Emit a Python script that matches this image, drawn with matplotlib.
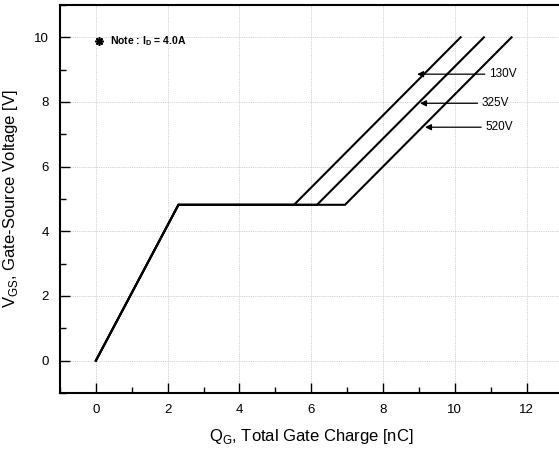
import matplotlib
matplotlib.use("Agg")
import matplotlib.pyplot as plt
from matplotlib.ticker import MultipleLocator

plt.rcParams['font.family'] = ['Liberation Sans', 'DejaVu Sans']

# Data: gate charge curves (Qg [nC], Vgs [V])
series_labels = ["130V", "325V", "520V"]
q_130 = [0.0, 2.3, 5.52, 10.16]
v_130 = [0.0, 4.82, 4.82, 10.0]
q_325 = [0.0, 2.3, 6.16, 10.81]
v_325 = [0.0, 4.82, 4.82, 10.0]
q_520 = [0.0, 2.3, 6.94, 11.58]
v_520 = [0.0, 4.82, 4.82, 10.0]

# annotation positions: (text x, text y, arrow head x)
ann_text_x = [10.95, 10.75, 10.85]
ann_y = [8.86, 7.96, 7.22]
ann_head_x = [8.95, 9.03, 9.17]

xticks = [0, 2, 4, 6, 8, 10, 12]
yticks = [0, 2, 4, 6, 8, 10]

fig = plt.figure(figsize=(5.59, 4.53), dpi=100)
ax = fig.add_axes([0.1073, 0.1325, 0.8990, 0.8565])

for q, v in [(q_130, v_130), (q_325, v_325), (q_520, v_520)]:
    ax.plot(q, v, color='black', lw=1.5, solid_joinstyle='miter')

for lab, tx, ty, hx in zip(series_labels, ann_text_x, ann_y, ann_head_x):
    ax.annotate(lab, xy=(hx, ty), xytext=(tx, ty), fontsize=8.5,
                va='center', ha='left',
                arrowprops=dict(arrowstyle='-|>', color='black', lw=0.9,
                                mutation_scale=9, shrinkA=1, shrinkB=0))

ax.plot([0.1], [9.88], marker=(8, 2, 0), color='black', ms=6, mew=1.2)
ax.text(0.38, 9.88, r"Note : I$_\mathregular{D}$ = 4.0A", fontsize=7.5,
        fontweight='bold', va='center', ha='left')

ax.set_xlim(-1, 13)
ax.set_ylim(-1, 11)
ax.set_xticks(xticks)
ax.set_yticks(yticks)
ax.xaxis.set_minor_locator(MultipleLocator(1))
ax.yaxis.set_minor_locator(MultipleLocator(1))
ax.tick_params(which='major', direction='in', length=7, width=1, labelsize=9.5, pad=8)
ax.tick_params(which='minor', direction='in', length=4, width=1)
ax.tick_params(top=False, right=False, which='both')
ax.grid(True, which='major', color='#c4c4c4', linestyle=(0, (1, 1.2)), lw=0.6)

for s in ax.spines.values():
    s.set_linewidth(1.5)
ax.spines['right'].set_visible(False)

ax.set_xlabel(r"Q$_\mathregular{G}$, Total Gate Charge [nC]", fontsize=12, labelpad=8)
ax.set_ylabel(r"V$_\mathregular{GS}$, Gate-Source Voltage [V]", fontsize=12, labelpad=10)

fig.savefig("out.png", dpi=100)
